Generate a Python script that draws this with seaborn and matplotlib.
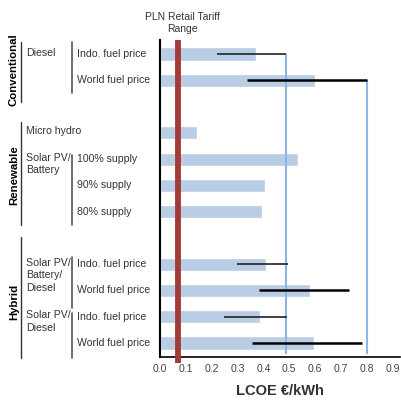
import numpy as np
import pandas as pd
import matplotlib
matplotlib.use("Agg")
import matplotlib.pyplot as plt
import matplotlib.transforms as mtransforms
import seaborn as sns

# --- data ---
rows = [0, 1, 3, 4, 5, 6, 8, 9, 10, 11]
scenarios = ["Indo. fuel price", "World fuel price", "", "100% supply",
             "90% supply", "80% supply", "Indo. fuel price", "World fuel price",
             "Indo. fuel price", "World fuel price"]
lcoe = [0.371, 0.600, 0.143, 0.534, 0.406, 0.395, 0.410, 0.580, 0.387, 0.596]
err_lo = [0.220, 0.337, None, None, None, None, 0.298, 0.383, 0.248, 0.356]
err_hi = [0.487, 0.800, None, None, None, None, 0.495, 0.731, 0.491, 0.781]
err_thick = [1.2, 1.8, 0, 0, 0, 0, 1.2, 1.8, 1.2, 1.8]
tariff = 0.068

groups = ["Conventional", "Renewable", "Hybrid"]
group_span = [(-0.46, 1.83), (2.59, 6.51), (6.97, 11.57)]
group_mid = [0.6, 4.6, 9.44]
techs = ["Diesel", "Micro hydro", "Solar PV/\nBattery", "Solar PV/\nBattery/\nDiesel", "Solar PV/\nDiesel"]
tech_row = [0, 3, 4, 8, 10]
sub_span = [(-0.46, 1.48), (3.84, 6.51), (7.73, 9.67), (9.86, 11.57)]

df = pd.DataFrame({"row": rows, "lcoe": lcoe})

sns.set_style("white")
plt.rcParams["font.family"] = ["Liberation Sans", "DejaVu Sans"]

fig = plt.figure(figsize=(4.01, 4.01), dpi=100)
ax = fig.add_axes([160 / 401, 1 - 357 / 401, 240 / 401, 317 / 401])

sns.barplot(data=df, x="lcoe", y="row", orient="h", native_scale=True,
            color="#b9cde5", saturation=1, width=0.5, errorbar=None, ax=ax)

# drop lines from the diesel upper bounds
for r, hi in zip(rows[:2], err_hi[:2]):
    ax.vlines(hi, r, 11.4, color="#8db4e2", lw=1.5, zorder=3)

# ranges
for r, lo, hi, w in zip(rows, err_lo, err_hi, err_thick):
    if lo is not None:
        ax.hlines(r, lo, hi, color="black" if w > 1.5 else "#222222", lw=w, zorder=4)

# retail tariff
ax.plot([tariff, tariff], [-0.53, 11.75], color="#a23a3a", lw=4.2, zorder=5,
        clip_on=False, solid_capstyle="butt")
ax.text(tariff + 0.02, -0.75, "PLN Retail Tariff\nRange", ha="center", va="bottom",
        fontsize=7.5, color="#333333", linespacing=1.25)

ax.set_xlim(0, 0.928)
ax.set_ylim(11.53, -0.53)
ticks = np.arange(0, 0.95, 0.1)
ax.set_xticks(ticks)
ax.set_xticklabels([f"{v:.1f}" for v in ticks], fontsize=7.6, color="#444444")
ax.set_yticks([])
ax.set_ylabel("")
ax.set_xlabel("LCOE €/kWh", fontsize=10.5, fontweight="bold", color="#333333", labelpad=7)
ax.tick_params(axis="x", direction="inout", length=4, width=1, color="black", pad=3)
for s in ["top", "right"]:
    ax.spines[s].set_visible(False)
ax.spines["left"].set_color("black")
ax.spines["left"].set_linewidth(1.5)
ax.spines["bottom"].set_color("black")
ax.spines["bottom"].set_linewidth(1.2)

# category labels on the left
tr = mtransforms.blended_transform_factory(fig.transFigure, ax.transData)
for r, s in zip(rows, scenarios):
    ax.text(77 / 401, r, s, transform=tr, ha="left", va="center", fontsize=7.6,
            color="#333333", clip_on=False)
for r, t in zip(tech_row, techs):
    ax.text(26 / 401, r - 0.24, t, transform=tr, ha="left", va="top", fontsize=7.6,
            color="#333333", linespacing=1.3, clip_on=False)
for g, (a, b), m in zip(groups, group_span, group_mid):
    ax.plot([21 / 401, 21 / 401], [a, b], transform=tr, color="#333333", lw=1, clip_on=False)
    ax.text(14 / 401, m, g, transform=tr, rotation=90, ha="center", va="center",
            fontsize=8.2, fontweight="bold", color="black", clip_on=False)
for a, b in sub_span:
    ax.plot([72 / 401, 72 / 401], [a, b], transform=tr, color="#555555", lw=1.2, clip_on=False)

fig.savefig("out.png", dpi=100)
